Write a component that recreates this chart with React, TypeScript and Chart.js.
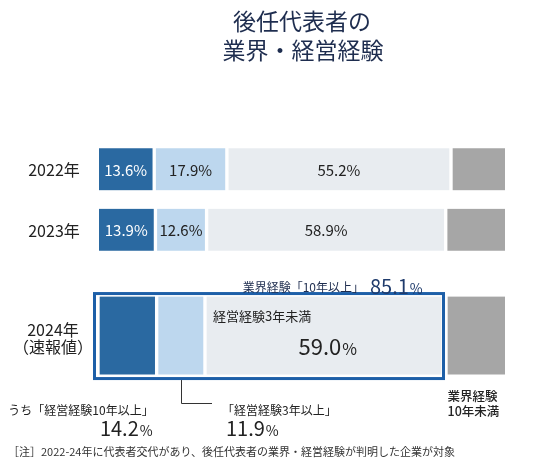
import { useEffect, useRef } from "react";
import { Chart, ChartConfiguration, registerables } from "chart.js";

Chart.register(...registerables);

// values (%), one entry per year
const years = ["2022年", "2023年", "2024年"];
const yearNotes = ["", "", "（速報値）"];
const mgmt10Plus = [13.6, 13.9, 14.2]; // 経営経験10年以上
const mgmt3Plus = [17.9, 12.6, 11.9]; // 経営経験3年以上
const mgmtUnder3 = [55.2, 58.9, 59.0]; // 経営経験3年未満
const industryUnder10 = [13.3, 14.6, 14.9]; // 業界経験10年未満
const industry10PlusLatest = 85.1; // 業界経験「10年以上」 (2024)

// vertical slot of each row on the index axis (2024 sits a bit further down)
const rowSlot = [0, 1, 2.75];

const FONT = '"Noto Sans CJK JP", "Noto Sans", sans-serif';
const DARK = "#2a69a1";
const LIGHT = "#bdd7ee";
const PALE = "#e8ecf0";
const GRAY = "#a6a6a6";
const FRAME = "#1d5fa8";
const NAVY = "#1e2d4f";
const INK = "#222222";

// left/right = white gap drawn inside each segment (past rows, 2024 row)
const seriesDefs = [
  { label: "経営経験10年以上", values: mgmt10Plus, color: DARK, text: "#ffffff", gap: [0, 2], gap24: [1, 2] },
  { label: "経営経験3年以上", values: mgmt3Plus, color: LIGHT, text: INK, gap: [2, 2], gap24: [2, 2] },
  { label: "経営経験3年未満", values: mgmtUnder3, color: PALE, text: INK, gap: [2, 2], gap24: [2, 3.5] },
  { label: "業界経験10年未満", values: industryUnder10, color: GRAY, text: null, gap: [2, 0], gap24: [3.5, 0] },
];

function setFont(ctx: CanvasRenderingContext2D, size: number, weight = "400") {
  ctx.font = `${weight} ${size}px ${FONT}`;
}

function text(
  ctx: CanvasRenderingContext2D,
  s: string,
  x: number,
  y: number,
  size: number,
  color: string,
  align: CanvasTextAlign = "left",
  weight = "400"
) {
  setFont(ctx, size, weight);
  ctx.fillStyle = color;
  ctx.textAlign = align;
  ctx.textBaseline = "middle";
  ctx.fillText(s, x, y);
}

// big number with a smaller % sign, drawn on a shared baseline
function bigPct(
  ctx: CanvasRenderingContext2D,
  value: number,
  x: number,
  baseline: number,
  size: number,
  color: string,
  align: "left" | "right" | "center"
) {
  const num = value.toFixed(1);
  const small = Math.round(size * 0.72);
  setFont(ctx, size);
  const wNum = ctx.measureText(num).width;
  setFont(ctx, small);
  const wPct = ctx.measureText("%").width + 1;
  const total = wNum + wPct;
  const start = align === "left" ? x : align === "right" ? x - total : x - total / 2;
  ctx.fillStyle = color;
  ctx.textAlign = "left";
  ctx.textBaseline = "alphabetic";
  setFont(ctx, size);
  ctx.fillText(num, start, baseline);
  setFont(ctx, small);
  ctx.fillText("%", start + wNum + 1, baseline);
}

const annotations = {
  id: "annotations",
  afterDatasetsDraw(chart: Chart) {
    const ctx = chart.ctx;
    const yScale = chart.scales.y;
    ctx.save();

    // title
    text(ctx, "後任代表者の", 302, 21, 23, NAVY, "center");
    text(ctx, "業界・経営経験", 303, 50, 23, NAVY, "center");

    // year labels
    years.forEach((y, i) => {
      const py = yScale.getPixelForValue(rowSlot[i]);
      if (yearNotes[i]) {
        text(ctx, y, 53, py - 6, 16, INK, "center");
        text(ctx, yearNotes[i], 53, py + 11, 16, INK, "center");
      } else {
        text(ctx, y, 54, py + 1, 16, INK, "center");
      }
    });

    // value labels in the 2022/2023 bars (even datasets = past rows)
    seriesDefs.forEach((s, si) => {
      if (!s.text) return;
      const meta = chart.getDatasetMeta(si * 2);
      meta.data.forEach((el: any, i: number) => {
        const { x, y, base } = el.getProps(["x", "y", "base"], true);
        const cx = (x + base) / 2 + (s.gap[0] - s.gap[1]) / 2;
        text(ctx, s.values[i].toFixed(1) + "%", cx, y + 1, 15, s.text, "center");
      });
    });

    // 2024 row
    const bar = (si: number) => chart.getDatasetMeta(si * 2 + 1).data[0] as any;
    const dark = bar(0).getProps(["x", "y", "base", "height"], true);
    const light = bar(1).getProps(["x", "y", "base", "height"], true);
    const pale = bar(2).getProps(["x", "y", "base", "height"], true);
    const gray = bar(3).getProps(["x", "y", "base", "height"], true);
    const top = dark.y - dark.height / 2;
    const bottom = dark.y + dark.height / 2;

    // frame around 業界経験10年以上
    ctx.strokeStyle = FRAME;
    ctx.lineWidth = 3;
    ctx.strokeRect(dark.base - 4.5, top - 3, pale.x - 1 - (dark.base - 4.5), bottom + 4 - (top - 3));

    text(ctx, "業界経験「10年以上」", 364, 287, 12, NAVY, "right");
    bigPct(ctx, industry10PlusLatest, 370, 294, 20, "#1f3b6c", "left");

    text(ctx, "経営経験3年未満", pale.base + 8, top + 20, 13, INK, "left");
    bigPct(ctx, mgmtUnder3[2], (pale.base + pale.x) / 2 + 3, top + 58, 22, INK, "center");

    // leader from the 3年以上 bar
    const lx = Math.round((light.base + light.x) / 2) + 0.5;
    ctx.strokeStyle = "#333333";
    ctx.lineWidth = 1;
    ctx.beginPath();
    ctx.moveTo(lx, bottom + 5.5);
    ctx.lineTo(lx, 403.5);
    ctx.lineTo(212, 403.5);
    ctx.stroke();

    text(ctx, "うち「経営経験10年以上」", dark.x - 3, 410, 12, INK, "right");
    bigPct(ctx, mgmt10Plus[2], dark.x - 4, 436, 20, INK, "right");
    text(ctx, "「経営経験3年以上」", 222, 410, 12, INK, "left");
    bigPct(ctx, mgmt3Plus[2], 226, 436, 20, INK, "left");

    text(ctx, "業界経験", gray.base + 3, 396, 12.5, INK, "left", "500");
    text(ctx, "10年未満", gray.base + 3, 411, 12.5, INK, "left", "500");

    // note
    text(
      ctx,
      "［注］2022-24年に代表者交代があり、後任代表者の業界・経営経験が判明した企業が対象",
      8,
      452,
      11,
      "#333333",
      "left"
    );

    ctx.restore();
  },
};

export function SuccessorExperienceChart() {
  const canvasRef = useRef<HTMLCanvasElement>(null);
  const chartRef = useRef<Chart | null>(null);

  useEffect(() => {
    if (!canvasRef.current) return;

    const ctx = canvasRef.current.getContext("2d");
    if (!ctx) return;

    if (chartRef.current) {
      chartRef.current.destroy();
    }

    const datasets = seriesDefs.flatMap((s) => [
      {
        label: s.label,
        data: [0, 1].map((i) => ({ x: s.values[i], y: rowSlot[i] })),
        backgroundColor: s.color,
        borderColor: "#ffffff",
        borderWidth: { left: s.gap[0], right: s.gap[1], top: 0, bottom: 0 },
        borderSkipped: false,
        barThickness: 42,
      },
      {
        label: s.label + " 2024",
        data: [{ x: s.values[2], y: rowSlot[2] }],
        backgroundColor: s.color,
        borderColor: "#ffffff",
        borderWidth: { left: s.gap24[0], right: s.gap24[1], top: 0, bottom: 0 },
        borderSkipped: false,
        barThickness: 78,
      },
    ]);

    const config: ChartConfiguration = {
      type: "bar",
      data: { datasets: datasets as any },
      options: {
        indexAxis: "y",
        responsive: true,
        maintainAspectRatio: false,
        animation: false,
        layout: {
          padding: { left: 99, right: 30, top: 124, bottom: 71 },
        },
        scales: {
          x: {
            type: "linear",
            stacked: true,
            min: 0,
            max: 100,
            display: false,
          },
          y: {
            type: "linear",
            stacked: true,
            reverse: true,
            min: -0.5,
            max: 3.5,
            display: false,
          },
        },
        plugins: {
          legend: { display: false },
          tooltip: { enabled: false },
        },
      },
      plugins: [annotations],
    };

    chartRef.current = new Chart(ctx, config);

    return () => {
      if (chartRef.current) {
        chartRef.current.destroy();
      }
    };
  }, []);

  return (
    <div style={{ position: "absolute", left: 0, top: 0, width: "535px", height: "467px", background: "#ffffff" }}>
      <canvas ref={canvasRef}></canvas>
    </div>
  );
}

export default function App() {
  return <SuccessorExperienceChart />;
}
